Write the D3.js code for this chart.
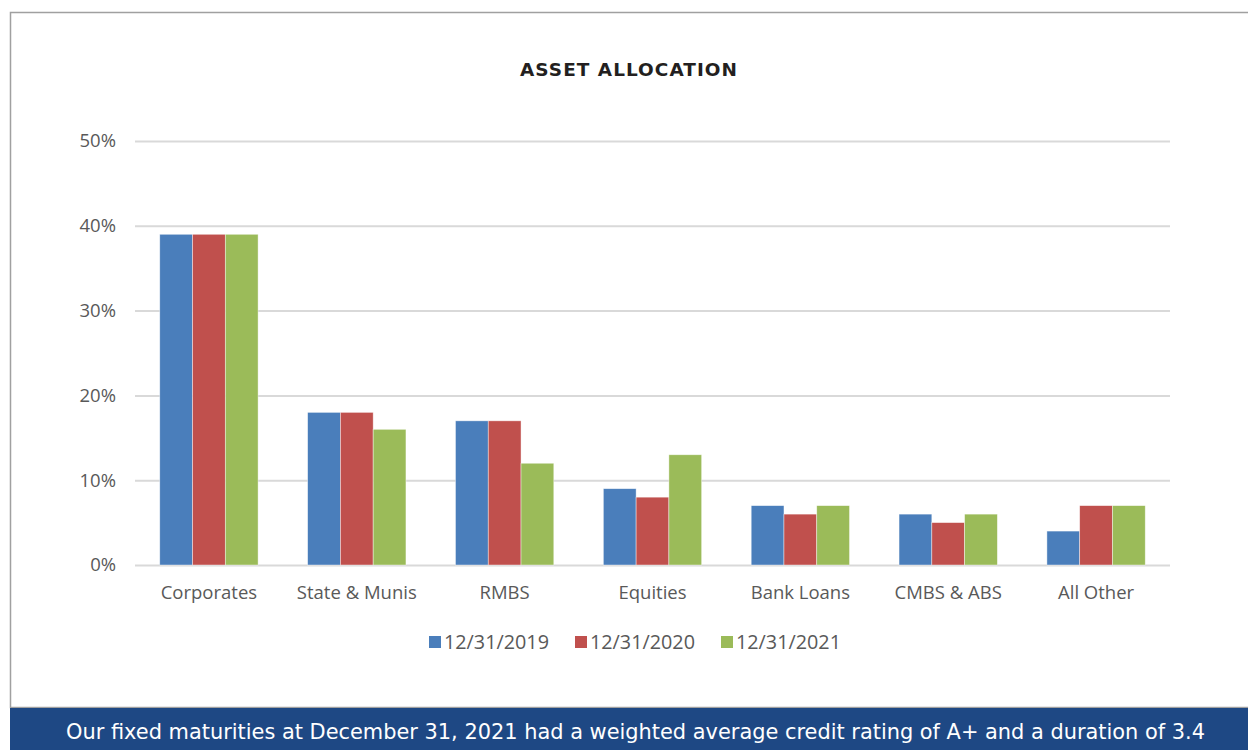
<!DOCTYPE html>
<html>
<head>
<meta charset="utf-8">
<script src="https://cdn.jsdelivr.net/npm/d3@7"></script>
<style>
  body { margin: 0; background: #fff; }
  svg { display: block; }
</style>
</head>
<body>
<svg id="chart" width="1248" height="750"></svg>
<script>
// data (percent)
var categories = ["Corporates", "State & Munis", "RMBS", "Equities", "Bank Loans", "CMBS & ABS", "All Other"];
var seriesNames = ["12/31/2019", "12/31/2020", "12/31/2021"];
var values2019 = [39, 18, 17, 9, 7, 6, 4];
var values2020 = [39, 18, 17, 8, 6, 5, 7];
var values2021 = [39, 16, 12, 13, 7, 6, 7];
var yTicks = [0, 10, 20, 30, 40, 50];
var colors = ["#4a7ebb", "#c0504d", "#9bbb59"];
var titleText = "ASSET ALLOCATION";
var footerText = "Our fixed maturities at December 31, 2021 had a weighted average credit rating of A+ and a duration of 3.4";

var series = [values2019, values2020, values2021];

var svg = d3.select("#chart");

// frame
svg.append("rect")
    .attr("x", 10.5).attr("y", 12.5)
    .attr("width", 1248).attr("height", 695)
    .attr("fill", "none").attr("stroke", "#a0a0a0").attr("stroke-width", 1.5);

// footer band
svg.append("rect")
    .attr("x", 10).attr("y", 708)
    .attr("width", 1238).attr("height", 42)
    .attr("fill", "#1e4884");
svg.append("text")
    .attr("x", 66).attr("y", 739)
    .attr("fill", "#fff")
    .attr("textLength", 1139)
    .attr("lengthAdjust", "spacingAndGlyphs")
    .style("font-family", "'DejaVu Sans', sans-serif")
    .style("font-size", "20.5px")
    .text(footerText);

// title
svg.append("text")
    .attr("x", 520).attr("y", 76)
    .attr("fill", "#231f20")
    .attr("textLength", 218)
    .attr("lengthAdjust", "spacingAndGlyphs")
    .style("font-family", "'DejaVu Sans', sans-serif")
    .style("font-weight", "bold")
    .style("font-size", "18px")
    .style("letter-spacing", "1px")
    .text(titleText);

var margin = {left: 135, right: 1170, top: 141, bottom: 565};

var x = d3.scaleBand()
    .domain(categories)
    .range([margin.left, margin.right])
    .paddingInner(0.335)
    .paddingOuter(0.1675);

var xs = d3.scaleBand()
    .domain(d3.range(series.length))
    .range([0, x.bandwidth()]);

var y = d3.scaleLinear()
    .domain([0, 50])
    .range([margin.bottom, margin.top]);

// gridlines
var yAxis = d3.axisLeft(y)
    .tickValues(yTicks)
    .tickSize(-(margin.right - margin.left))
    .tickFormat(function(d) { return d + "%"; });

var gy = svg.append("g")
    .attr("transform", "translate(" + margin.left + ",0)")
    .call(yAxis);
gy.select(".domain").remove();
gy.selectAll(".tick line").attr("stroke", "#d9d9d9").attr("stroke-width", 2);
gy.selectAll(".tick text")
    .attr("x", -19)
    .attr("fill", "#595959")
    .style("font-family", "'Open Sans', 'Noto Sans', sans-serif")
    .style("font-size", "18.5px");

// bars
var groups = svg.append("g").selectAll("g")
    .data(series)
    .join("g")
    .attr("fill", function(d, i) { return colors[i]; });

groups.each(function(vals, si) {
    d3.select(this).selectAll("rect")
        .data(vals)
        .join("rect")
        .attr("x", function(d, ci) { return x(categories[ci]) + xs(si); })
        .attr("y", function(d) { return y(d); })
        .attr("width", xs.bandwidth())
        .attr("height", function(d) { return y(0) - y(d); })
        .attr("stroke", "#ffffff")
        .attr("stroke-opacity", 0.6)
        .attr("stroke-width", 0.7);
});

// x axis labels
var xAxis = d3.axisBottom(x).tickSize(0);
var gx = svg.append("g")
    .attr("transform", "translate(0," + margin.bottom + ")")
    .call(xAxis);
gx.select(".domain").remove();
gx.selectAll(".tick text")
    .attr("y", 21)
    .attr("dy", "0.71em")
    .attr("fill", "#595959")
    .style("font-family", "'Open Sans', 'Noto Sans', sans-serif")
    .style("font-size", "18.5px");

// legend
var legendX = [429, 575, 721];
var legend = svg.append("g").selectAll("g")
    .data(seriesNames)
    .join("g")
    .attr("transform", function(d, i) { return "translate(" + legendX[i] + ",636)"; });
legend.append("rect")
    .attr("width", 12).attr("height", 12)
    .attr("fill", function(d, i) { return colors[i]; });
legend.append("text")
    .attr("x", 15).attr("y", 13)
    .attr("fill", "#595959")
    .style("font-family", "'Open Sans', 'Noto Sans', sans-serif")
    .style("font-size", "19.8px")
    .text(function(d) { return d; });
</script>
</body>
</html>
